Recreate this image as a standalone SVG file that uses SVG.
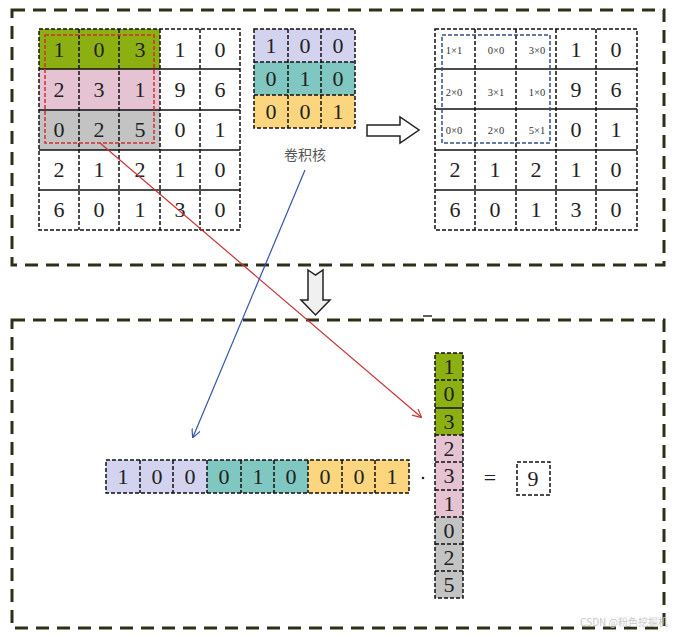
<svg xmlns="http://www.w3.org/2000/svg" width="675" height="636" viewBox="0 0 675 636">
<defs>
<style>
.frame{fill:none;stroke:#2f2f17;stroke-width:3;stroke-dasharray:13 8}
.b{fill:none;stroke:#111;stroke-width:1.5;stroke-dasharray:4 2}
.s{stroke:#111;stroke-width:1.5}
.d{stroke:#111;stroke-width:1.5;stroke-dasharray:4 2}
.n{font-family:"Liberation Serif","Times New Roman",serif;font-size:22px;fill:#222;text-anchor:middle}
.m{font-family:"Liberation Serif","Times New Roman",serif;font-size:10.5px;fill:#333;text-anchor:middle}
.g{fill:#8caf12}.p{fill:#e6c3d3}.gr{fill:#c3c3c3}.pu{fill:#d3d3f0}.t{fill:#80c7c1}.y{fill:#fbd67f}
</style>
<marker id="ar" viewBox="0 0 10 10" refX="9" refY="5" markerWidth="9" markerHeight="9" orient="auto" markerUnits="userSpaceOnUse">
<path d="M0,0 L10,5 L0,10" fill="none" stroke="#cc3333" stroke-width="1.3"/>
</marker>
<marker id="ab" viewBox="0 0 10 10" refX="9" refY="5" markerWidth="9" markerHeight="9" orient="auto" markerUnits="userSpaceOnUse">
<path d="M0,0 L10,5 L0,10" fill="none" stroke="#3355aa" stroke-width="1.3"/>
</marker>
</defs>
<rect width="675" height="636" fill="#fff"/>
<rect class="frame" x="12" y="10" width="652" height="255"/>
<rect class="frame" x="12" y="320" width="652" height="308"/>
<line x1="423" y1="316" x2="432" y2="316" stroke="#2f2f17" stroke-width="1.5"/>

<g id="input-grid">
<rect class="g" x="39" y="29" width="121" height="40"/>
<rect class="p" x="39" y="69" width="121" height="41"/>
<rect class="gr" x="39" y="110" width="121" height="40"/>
<line class="s" x1="39" y1="69" x2="240" y2="69"/>
<line class="s" x1="39" y1="110" x2="240" y2="110"/>
<line class="s" x1="39" y1="150" x2="240" y2="150"/>
<line class="s" x1="39" y1="190" x2="240" y2="190"/>
<line class="d" x1="79" y1="29" x2="79" y2="230"/>
<line class="d" x1="119" y1="29" x2="119" y2="230"/>
<line class="d" x1="160" y1="29" x2="160" y2="230"/>
<line class="d" x1="200" y1="29" x2="200" y2="230"/>
<rect class="b" x="39" y="29" width="201" height="201"/>
<rect x="45" y="35" width="109" height="108" fill="none" stroke="#d03030" stroke-width="1.5" stroke-dasharray="4 2"/>
<text class="n" x="59" y="57">1</text><text class="n" x="99" y="57">0</text><text class="n" x="140" y="57">3</text><text class="n" x="180" y="57">1</text><text class="n" x="220" y="57">0</text>
<text class="n" x="59" y="97">2</text><text class="n" x="99" y="97">3</text><text class="n" x="140" y="97">1</text><text class="n" x="180" y="97">9</text><text class="n" x="220" y="97">6</text>
<text class="n" x="59" y="137">0</text><text class="n" x="99" y="137">2</text><text class="n" x="140" y="137">5</text><text class="n" x="180" y="137">0</text><text class="n" x="220" y="137">1</text>
<text class="n" x="59" y="177">2</text><text class="n" x="99" y="177">1</text><text class="n" x="140" y="177">2</text><text class="n" x="180" y="177">1</text><text class="n" x="220" y="177">0</text>
<text class="n" x="59" y="217">6</text><text class="n" x="99" y="217">0</text><text class="n" x="140" y="217">1</text><text class="n" x="180" y="217">3</text><text class="n" x="220" y="217">0</text>
</g>

<g id="kernel">
<rect class="pu" x="254" y="29" width="101" height="33"/>
<rect class="t" x="254" y="62" width="101" height="33"/>
<rect class="y" x="254" y="95" width="101" height="33"/>
<line class="d" x1="254" y1="62" x2="355" y2="62"/>
<line class="d" x1="254" y1="95" x2="355" y2="95"/>
<line class="d" x1="288" y1="29" x2="288" y2="128"/>
<line class="d" x1="321" y1="29" x2="321" y2="128"/>
<rect class="b" x="254" y="29" width="101" height="99"/>
<text class="n" x="271" y="53">1</text><text class="n" x="305" y="53">0</text><text class="n" x="338" y="53">0</text>
<text class="n" x="271" y="86">0</text><text class="n" x="305" y="86">1</text><text class="n" x="338" y="86">0</text>
<text class="n" x="271" y="119">0</text><text class="n" x="305" y="119">0</text><text class="n" x="338" y="119">1</text>
<text x="305" y="160" font-family="'Noto Sans CJK SC',sans-serif" font-size="14" fill="#555" text-anchor="middle">卷积核</text>
</g>

<g id="arrow-right">
<path d="M367,125 L400,125 L400,117 L419,130 L400,143 L400,136 L367,136 Z" fill="#fff" stroke="#222" stroke-width="1.5"/>
</g>

<g id="product-grid">
<line class="s" x1="435" y1="69" x2="637" y2="69"/>
<line class="s" x1="435" y1="109" x2="637" y2="109"/>
<line class="s" x1="435" y1="150" x2="637" y2="150"/>
<line class="s" x1="435" y1="190" x2="637" y2="190"/>
<line class="d" x1="475" y1="29" x2="475" y2="230"/>
<line class="d" x1="516" y1="29" x2="516" y2="230"/>
<line class="d" x1="556" y1="29" x2="556" y2="230"/>
<line class="d" x1="596" y1="29" x2="596" y2="230"/>
<rect class="b" x="435" y="29" width="202" height="201"/>
<rect x="442" y="35" width="108" height="108" fill="none" stroke="#334f88" stroke-width="1.5" stroke-dasharray="4 2"/>
<text class="m" x="454" y="54">1×1</text><text class="m" x="496" y="54">0×0</text><text class="m" x="537" y="54">3×0</text>
<text class="m" x="454" y="96">2×0</text><text class="m" x="496" y="96">3×1</text><text class="m" x="537" y="96">1×0</text>
<text class="m" x="454" y="134">0×0</text><text class="m" x="496" y="134">2×0</text><text class="m" x="537" y="134">5×1</text>
<text class="n" x="576" y="57">1</text><text class="n" x="616" y="57">0</text>
<text class="n" x="576" y="97">9</text><text class="n" x="616" y="97">6</text>
<text class="n" x="576" y="137">0</text><text class="n" x="616" y="137">1</text>
<text class="n" x="455" y="177">2</text><text class="n" x="495" y="177">1</text><text class="n" x="536" y="177">2</text><text class="n" x="576" y="177">1</text><text class="n" x="616" y="177">0</text>
<text class="n" x="455" y="217">6</text><text class="n" x="495" y="217">0</text><text class="n" x="536" y="217">1</text><text class="n" x="576" y="217">3</text><text class="n" x="616" y="217">0</text>
</g>

<g id="arrow-down">
<path d="M308,270 L315.5,275 L323,270 L323,300 L330,300 L315.5,315 L301,300 L308,300 Z" fill="#f0f0f0" stroke="#222" stroke-width="1.5"/>
</g>

<g id="row-vector">
<rect class="pu" x="106" y="460" width="101" height="33"/>
<rect class="t" x="207" y="460" width="101" height="33"/>
<rect class="y" x="308" y="460" width="101" height="33"/>
<line class="d" x1="140" y1="460" x2="140" y2="493"/>
<line class="d" x1="173" y1="460" x2="173" y2="493"/>
<line class="d" x1="207" y1="460" x2="207" y2="493"/>
<line class="d" x1="241" y1="460" x2="241" y2="493"/>
<line class="d" x1="274" y1="460" x2="274" y2="493"/>
<line class="d" x1="308" y1="460" x2="308" y2="493"/>
<line class="d" x1="342" y1="460" x2="342" y2="493"/>
<line class="d" x1="375" y1="460" x2="375" y2="493"/>
<rect class="b" x="106" y="460" width="303" height="33"/>
<text class="n" x="123" y="484">1</text><text class="n" x="157" y="484">0</text><text class="n" x="190" y="484">0</text>
<text class="n" x="224" y="484">0</text><text class="n" x="258" y="484">1</text><text class="n" x="291" y="484">0</text>
<text class="n" x="325" y="484">0</text><text class="n" x="359" y="484">0</text><text class="n" x="392" y="484">1</text>
</g>

<g id="dot"><circle cx="423" cy="478" r="1.3" fill="#222"/></g>

<g id="column-vector">
<rect class="g" x="435" y="353" width="28" height="82"/>
<rect class="p" x="435" y="435" width="28" height="82"/>
<rect class="gr" x="435" y="517" width="28" height="81"/>
<line class="d" x1="435" y1="380" x2="463" y2="380"/>
<line class="s" x1="435" y1="408" x2="463" y2="408"/>
<line class="d" x1="435" y1="435" x2="463" y2="435"/>
<line class="d" x1="435" y1="462" x2="463" y2="462"/>
<line class="d" x1="435" y1="490" x2="463" y2="490"/>
<line class="d" x1="435" y1="517" x2="463" y2="517"/>
<line class="d" x1="435" y1="544" x2="463" y2="544"/>
<line class="d" x1="435" y1="571" x2="463" y2="571"/>
<rect class="b" x="435" y="353" width="28" height="245"/>
<text class="n" x="449" y="374" font-size="20">1</text>
<text class="n" x="449" y="401" font-size="20">0</text>
<text class="n" x="449" y="429" font-size="20">3</text>
<text class="n" x="449" y="456" font-size="20">2</text>
<text class="n" x="449" y="483" font-size="20">3</text>
<text class="n" x="449" y="511" font-size="20">1</text>
<text class="n" x="449" y="538" font-size="20">0</text>
<text class="n" x="449" y="565" font-size="20">2</text>
<text class="n" x="449" y="592" font-size="20">5</text>
</g>

<g id="equals"><text class="n" x="490" y="485">=</text></g>

<g id="result">
<rect class="b" x="517" y="462" width="33" height="33"/>
<text class="n" x="533" y="486">9</text>
</g>

<g id="connectors">
<line x1="100" y1="143" x2="421" y2="417" stroke="#cc3333" stroke-width="1.2" marker-end="url(#ar)"/>
<line x1="305" y1="170" x2="193" y2="437" stroke="#3355aa" stroke-width="1.2" marker-end="url(#ab)"/>
</g>

<text x="668" y="626" font-family="'Noto Sans CJK SC',sans-serif" font-size="10" fill="#c8c8c8" text-anchor="end">CSDN @粉色挖掘机</text>
</svg>
